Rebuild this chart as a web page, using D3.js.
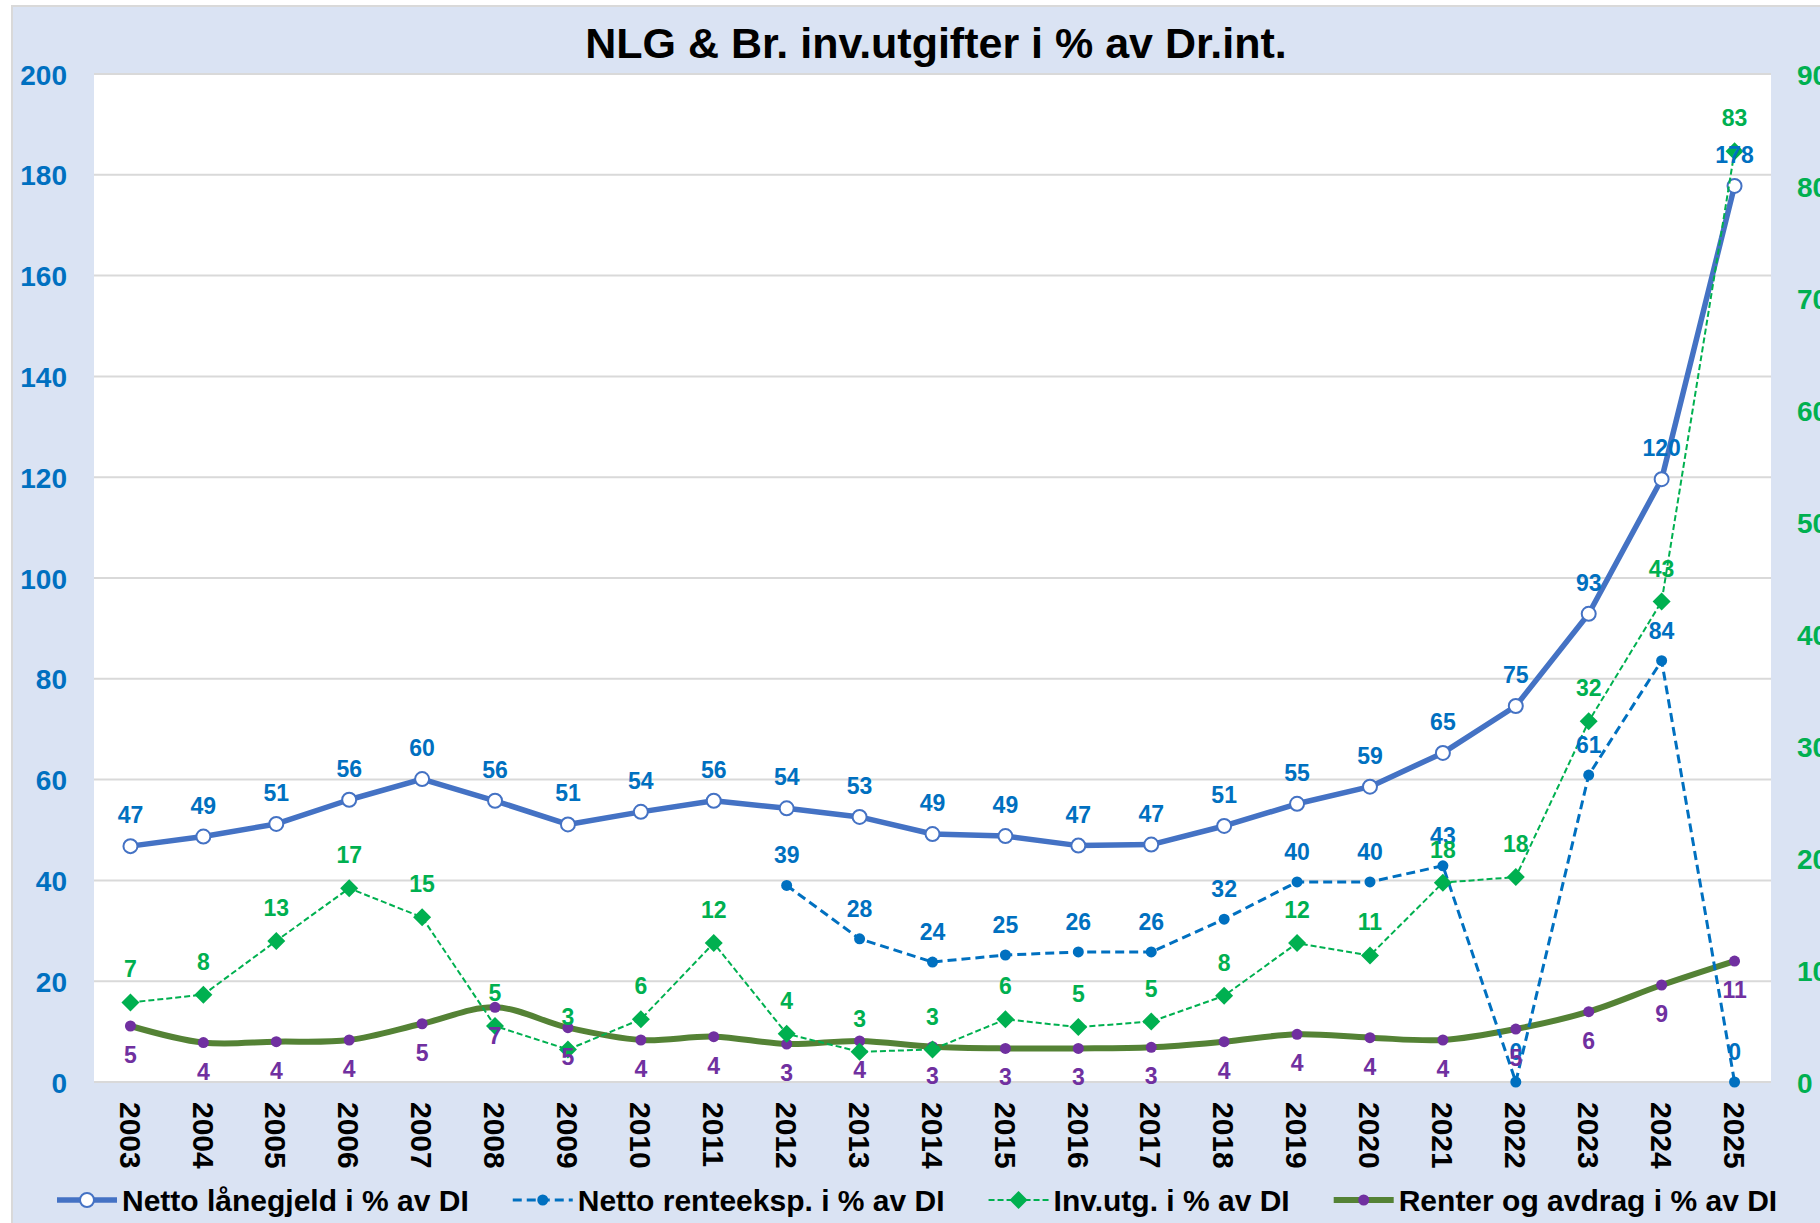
<!DOCTYPE html>
<html>
<head>
<meta charset="utf-8">
<script src="https://cdn.jsdelivr.net/npm/d3@7"></script>
<style>
  body { margin: 0; background: #fff; }
  svg { display: block; font-family: "Liberation Sans", Arial, sans-serif; font-weight: bold; }
</style>
</head>
<body>
<div id="chart"></div>
<script>
// data
const years = ['2003','2004','2005','2006','2007','2008','2009','2010','2011','2012','2013','2014',
               '2015','2016','2017','2018','2019','2020','2021','2022','2023','2024','2025'];
// left axis
const nettoLanegjeld = [46.8, 48.7, 51.2, 56.0, 60.1, 55.8, 51.1, 53.6, 55.8, 54.3, 52.6, 49.2,
                        48.8, 46.9, 47.1, 50.8, 55.2, 58.6, 65.3, 74.6, 92.9, 119.6, 177.8];
const nettoRenteeksp = [null, null, null, null, null, null, null, null, null, 39.0, 28.4, 23.8,
                        25.2, 25.8, 25.8, 32.3, 39.7, 39.7, 42.9, 0, 60.9, 83.6, 0];
// right axis
const invUtg = [7.1, 7.8, 12.6, 17.3, 14.7, 5.0, 2.9, 5.6, 12.4, 4.3, 2.7, 2.9,
                5.6, 4.9, 5.4, 7.7, 12.4, 11.3, 17.8, 18.3, 32.2, 42.9, 83.1];
const renterAvdrag = [5.0, 3.52, 3.6, 3.75, 5.2, 6.67, 4.85, 3.75, 4.05, 3.39, 3.66, 3.15,
                      3.0, 3.0, 3.1, 3.6, 4.26, 3.96, 3.75, 4.73, 6.28, 8.66, 10.8];
const leftTicks = [0, 20, 40, 60, 80, 100, 120, 140, 160, 180, 200];
const rightTicks = [0, 10, 20, 30, 40, 50, 60, 70, 80, 90];
const title = 'NLG & Br. inv.utgifter i % av Dr.int.';
const legendNames = ['Netto lånegjeld i % av DI', 'Netto renteeksp. i % av DI',
                     'Inv.utg. i % av DI', 'Renter og avdrag i % av DI'];

//sizing
const width = 1820, height = 1223;
const plot = {left: 94, right: 1771, top: 74, bottom: 1082};

const svg = d3.select('#chart').append('svg')
  .attr('width', width)
  .attr('height', height);

// chart area + plot area
svg.append('rect').attr('x', 12).attr('y', 6).attr('width', 1830).attr('height', 1240)
  .attr('fill', '#dae3f3').attr('stroke', '#d9d9d9').attr('stroke-width', 2);
svg.append('rect').attr('x', plot.left).attr('y', plot.top)
  .attr('width', plot.right - plot.left).attr('height', plot.bottom - plot.top)
  .attr('fill', '#fff');

//scales
const x = d3.scaleBand().domain(years).range([plot.left, plot.right]);
const cx = (i) => x(years[i]) + x.bandwidth() / 2;
const yL = d3.scaleLinear().domain([0, 200]).range([plot.bottom, plot.top]);
const yR = d3.scaleLinear().domain([0, 90]).range([plot.bottom, plot.top]);

// gridlines
svg.append('g').selectAll('line').data(leftTicks).enter().append('line')
  .attr('x1', plot.left).attr('x2', plot.right)
  .attr('y1', (d) => yL(d)).attr('y2', (d) => yL(d))
  .attr('stroke', '#d9d9d9').attr('stroke-width', 2);

//axes
const left = svg.append('g').attr('transform', 'translate(' + plot.left + ',0)')
  .call(d3.axisLeft(yL).tickValues(leftTicks).tickSize(0).tickPadding(27));
const right = svg.append('g').attr('transform', 'translate(' + plot.right + ',0)')
  .call(d3.axisRight(yR).tickValues(rightTicks).tickSize(0).tickPadding(26));
const bottom = svg.append('g').attr('transform', 'translate(0,' + plot.bottom + ')')
  .call(d3.axisBottom(x).tickSize(0));
[left, right, bottom].forEach((g) => {
  g.select('.domain').remove();
  g.attr('font-family', null).attr('font-size', null);
});
left.selectAll('text').attr('font-size', 28).attr('fill', '#0070c0').attr('dy', '0.36em');
right.selectAll('text').attr('font-size', 28).attr('fill', '#00b050').attr('dy', '0.36em');
bottom.selectAll('text')
  .attr('font-size', 30).attr('fill', '#000')
  .attr('x', 20).attr('y', 0).attr('dy', '0.36em')
  .attr('text-anchor', 'start')
  .attr('transform', 'rotate(90)');

// title
svg.append('text').attr('x', 936).attr('y', 58).attr('text-anchor', 'middle')
  .attr('font-size', 43).attr('fill', '#000').text(title);

// series
const series = [
  {values: nettoLanegjeld, y: yL, line: '#4472c4', width: 5.5, dash: null, marker: 'ring',
   fill: '#fff', label: '#0070c0', dy: -23, curve: d3.curveLinear},
  {values: nettoRenteeksp, y: yL, line: '#0070c0', width: 3, dash: '9,5', marker: 'dot',
   fill: '#0070c0', label: '#0070c0', dy: -22, curve: d3.curveLinear},
  {values: invUtg, y: yR, line: '#00b050', width: 2, dash: '6,3', marker: 'diamond',
   fill: '#00b050', label: '#00b050', dy: -25, curve: d3.curveLinear},
  {values: renterAvdrag, y: yR, line: '#548235', width: 6, dash: null, marker: 'dot',
   fill: '#7030a0', label: '#7030a0', dy: 37, curve: d3.curveCatmullRom}
];

function drawMarker(g, s, px, py) {
  if (s.marker === 'ring') {
    g.append('circle').attr('cx', px).attr('cy', py).attr('r', 7)
      .attr('fill', '#fff').attr('stroke', s.line).attr('stroke-width', 2);
  } else if (s.marker === 'diamond') {
    g.append('path').attr('d', 'M' + px + ',' + (py - 9) + 'L' + (px + 9) + ',' + py +
      'L' + px + ',' + (py + 9) + 'L' + (px - 9) + ',' + py + 'Z').attr('fill', s.fill);
  } else {
    g.append('circle').attr('cx', px).attr('cy', py).attr('r', 5.5).attr('fill', s.fill);
  }
}

const lineOrder = [3, 0, 1, 2];
lineOrder.forEach((k) => {
  const s = series[k];
  const line = d3.line()
    .defined((d) => d != null)
    .x((d, i) => cx(i))
    .y((d) => s.y(d))
    .curve(s.curve);
  svg.append('path').datum(s.values)
    .attr('d', line)
    .attr('fill', 'none')
    .attr('stroke', s.line)
    .attr('stroke-width', s.width)
    .attr('stroke-dasharray', s.dash)
    .attr('stroke-linejoin', 'round');
  const mg = svg.append('g');
  s.values.forEach((v, i) => {
    if (v == null) return;
    drawMarker(mg, s, cx(i), s.y(v));
  });
});

// data labels on top
series.forEach((s) => {
  svg.append('g').selectAll('text')
    .data(s.values.map((v, i) => ({v: v, i: i})).filter((d) => d.v != null))
    .enter().append('text')
    .attr('x', (d) => cx(d.i))
    .attr('y', (d) => s.y(d.v) + s.dy)
    .attr('text-anchor', 'middle')
    .attr('font-size', 23)
    .attr('fill', s.label)
    .text((d) => Math.round(d.v));
});

// legend
let lx = 57;
const ly = 1200;
series.forEach((s, k) => {
  const g = svg.append('g');
  g.append('line').attr('x1', lx).attr('x2', lx + 60).attr('y1', ly).attr('y2', ly)
    .attr('stroke', s.line).attr('stroke-width', s.width).attr('stroke-dasharray', s.dash);
  drawMarker(g, s, lx + 30, ly);
  const t = g.append('text').attr('x', lx + 65).attr('y', ly).attr('dy', '0.36em')
    .attr('font-size', 30).attr('fill', '#000').text(legendNames[k]);
  lx += 65 + t.node().getComputedTextLength() + 44;
});
</script>
</body>
</html>
